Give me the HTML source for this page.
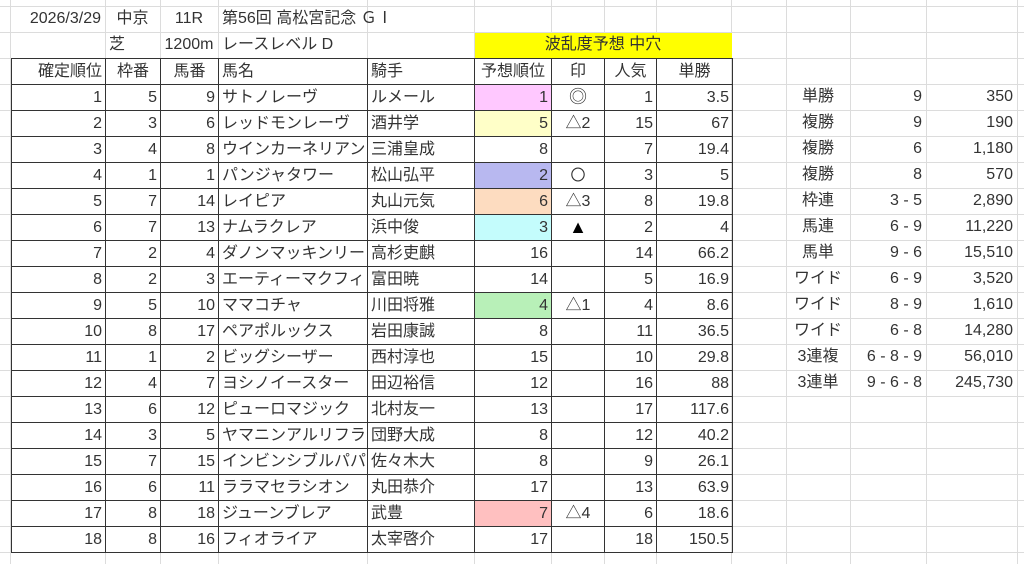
<!DOCTYPE html>
<html><head><meta charset="utf-8"><style>
body{margin:0;width:1024px;height:564px;overflow:hidden;background:#fff;font-family:"Liberation Sans","Noto Sans CJK JP",sans-serif;font-size:16px;color:#333;position:relative}
svg.bg{position:absolute;left:0;top:0}
.t{position:absolute;line-height:26px;height:26px;white-space:nowrap}
table{position:absolute;left:11px;top:58px;width:721px;border-collapse:collapse;table-layout:fixed}
td{border:1px solid #333;height:25px;padding:0 3px;line-height:25px;white-space:nowrap;overflow:hidden}
td.r{text-align:right}td.c{text-align:center}td.l{text-align:left}
.big{font-size:18px}
</style></head><body>
<svg class="bg" width="1024" height="564">
<g stroke="#dcdcdc" stroke-width="1">
<line x1="0" y1="6.5" x2="1024" y2="6.5"/><line x1="0" y1="32.5" x2="1024" y2="32.5"/><line x1="0" y1="58.5" x2="1024" y2="58.5"/>
<line x1="0" y1="84.5" x2="1024" y2="84.5"/><line x1="0" y1="110.5" x2="1024" y2="110.5"/><line x1="0" y1="136.5" x2="1024" y2="136.5"/>
<line x1="0" y1="162.5" x2="1024" y2="162.5"/><line x1="0" y1="188.5" x2="1024" y2="188.5"/><line x1="0" y1="214.5" x2="1024" y2="214.5"/>
<line x1="0" y1="240.5" x2="1024" y2="240.5"/><line x1="0" y1="266.5" x2="1024" y2="266.5"/><line x1="0" y1="292.5" x2="1024" y2="292.5"/>
<line x1="0" y1="318.5" x2="1024" y2="318.5"/><line x1="0" y1="344.5" x2="1024" y2="344.5"/><line x1="0" y1="370.5" x2="1024" y2="370.5"/>
<line x1="0" y1="396.5" x2="1024" y2="396.5"/><line x1="0" y1="422.5" x2="1024" y2="422.5"/><line x1="0" y1="448.5" x2="1024" y2="448.5"/>
<line x1="0" y1="474.5" x2="1024" y2="474.5"/><line x1="0" y1="500.5" x2="1024" y2="500.5"/><line x1="0" y1="526.5" x2="1024" y2="526.5"/>
<line x1="0" y1="552.5" x2="1024" y2="552.5"/>
<line x1="10.5" y1="0" x2="10.5" y2="564"/><line x1="105.5" y1="0" x2="105.5" y2="564"/><line x1="160.5" y1="0" x2="160.5" y2="564"/>
<line x1="218.5" y1="0" x2="218.5" y2="564"/><line x1="367.5" y1="0" x2="367.5" y2="564"/><line x1="474.5" y1="0" x2="474.5" y2="564"/>
<line x1="551.5" y1="0" x2="551.5" y2="564"/><line x1="604.5" y1="0" x2="604.5" y2="564"/><line x1="656.5" y1="0" x2="656.5" y2="564"/>
<line x1="731.5" y1="0" x2="731.5" y2="564"/><line x1="786.5" y1="0" x2="786.5" y2="564"/><line x1="850.5" y1="0" x2="850.5" y2="564"/>
<line x1="926.5" y1="0" x2="926.5" y2="564"/><line x1="1017.5" y1="0" x2="1017.5" y2="564"/>
</g>
<rect x="219" y="7" width="148" height="25" fill="#fff"/>
<rect x="368" y="7" width="106" height="25" fill="#fff"/>
<rect x="219" y="33" width="148" height="25" fill="#fff"/>
<rect x="475" y="33" width="257" height="25" fill="#ffff00"/>
</svg>
<div class="t" style="left:11px;top:6px;width:90px;text-align:right">2026/3/29</div>
<div class="t" style="left:105px;top:6px;width:55px;text-align:center">中京</div>
<div class="t" style="left:160px;top:6px;width:58px;text-align:center">11R</div>
<div class="t" style="left:222px;top:6px">第56回 高松宮記念 ＧⅠ</div>
<div class="t" style="left:109px;top:32px">芝</div>
<div class="t" style="left:160px;top:32px;width:58px;text-align:center">1200m</div>
<div class="t" style="left:222px;top:32px">レースレベル D</div>
<div class="t" style="left:474px;top:32px;width:258px;text-align:center">波乱度予想 中穴</div>
<table>
<colgroup><col style="width:94px"><col style="width:55px"><col style="width:58px"><col style="width:149px"><col style="width:107px"><col style="width:77px"><col style="width:53px"><col style="width:52px"><col style="width:76px"></colgroup>
<tr><td class="r">確定順位</td><td class="c">枠番</td><td class="c">馬番</td><td class="l">馬名</td><td class="l">騎手</td><td class="c">予想順位</td><td class="c">印</td><td class="c">人気</td><td class="c">単勝</td></tr>
<tr><td class="r">1</td><td class="r">5</td><td class="r">9</td><td>サトノレーヴ</td><td>ルメール</td><td class="r" style="background:#ffc8ff">1</td><td class="c big">◎</td><td class="r">1</td><td class="r">3.5</td></tr>
<tr><td class="r">2</td><td class="r">3</td><td class="r">6</td><td>レッドモンレーヴ</td><td>酒井学</td><td class="r" style="background:#ffffc8">5</td><td class="c">△2</td><td class="r">15</td><td class="r">67</td></tr>
<tr><td class="r">3</td><td class="r">4</td><td class="r">8</td><td>ウインカーネリアン</td><td>三浦皇成</td><td class="r">8</td><td></td><td class="r">7</td><td class="r">19.4</td></tr>
<tr><td class="r">4</td><td class="r">1</td><td class="r">1</td><td>パンジャタワー</td><td>松山弘平</td><td class="r" style="background:#b8b8f0">2</td><td class="c" style="font-size:15px">〇</td><td class="r">3</td><td class="r">5</td></tr>
<tr><td class="r">5</td><td class="r">7</td><td class="r">14</td><td>レイピア</td><td>丸山元気</td><td class="r" style="background:#fddcc0">6</td><td class="c">△3</td><td class="r">8</td><td class="r">19.8</td></tr>
<tr><td class="r">6</td><td class="r">7</td><td class="r">13</td><td>ナムラクレア</td><td>浜中俊</td><td class="r" style="background:#c4fcfc">3</td><td class="c big" style="color:#000">▲</td><td class="r">2</td><td class="r">4</td></tr>
<tr><td class="r">7</td><td class="r">2</td><td class="r">4</td><td>ダノンマッキンリー</td><td>高杉吏麒</td><td class="r">16</td><td></td><td class="r">14</td><td class="r">66.2</td></tr>
<tr><td class="r">8</td><td class="r">2</td><td class="r">3</td><td>エーティーマクフィ</td><td>富田暁</td><td class="r">14</td><td></td><td class="r">5</td><td class="r">16.9</td></tr>
<tr><td class="r">9</td><td class="r">5</td><td class="r">10</td><td>ママコチャ</td><td>川田将雅</td><td class="r" style="background:#b8f0b8">4</td><td class="c">△1</td><td class="r">4</td><td class="r">8.6</td></tr>
<tr><td class="r">10</td><td class="r">8</td><td class="r">17</td><td>ペアポルックス</td><td>岩田康誠</td><td class="r">8</td><td></td><td class="r">11</td><td class="r">36.5</td></tr>
<tr><td class="r">11</td><td class="r">1</td><td class="r">2</td><td>ビッグシーザー</td><td>西村淳也</td><td class="r">15</td><td></td><td class="r">10</td><td class="r">29.8</td></tr>
<tr><td class="r">12</td><td class="r">4</td><td class="r">7</td><td>ヨシノイースター</td><td>田辺裕信</td><td class="r">12</td><td></td><td class="r">16</td><td class="r">88</td></tr>
<tr><td class="r">13</td><td class="r">6</td><td class="r">12</td><td>ピューロマジック</td><td>北村友一</td><td class="r">13</td><td></td><td class="r">17</td><td class="r">117.6</td></tr>
<tr><td class="r">14</td><td class="r">3</td><td class="r">5</td><td>ヤマニンアルリフラ</td><td>団野大成</td><td class="r">8</td><td></td><td class="r">12</td><td class="r">40.2</td></tr>
<tr><td class="r">15</td><td class="r">7</td><td class="r">15</td><td>インビンシブルパパ</td><td>佐々木大</td><td class="r">8</td><td></td><td class="r">9</td><td class="r">26.1</td></tr>
<tr><td class="r">16</td><td class="r">6</td><td class="r">11</td><td>ララマセラシオン</td><td>丸田恭介</td><td class="r">17</td><td></td><td class="r">13</td><td class="r">63.9</td></tr>
<tr><td class="r">17</td><td class="r">8</td><td class="r">18</td><td>ジューンブレア</td><td>武豊</td><td class="r" style="background:#ffc0c0">7</td><td class="c">△4</td><td class="r">6</td><td class="r">18.6</td></tr>
<tr><td class="r">18</td><td class="r">8</td><td class="r">16</td><td>フィオライア</td><td>太宰啓介</td><td class="r">17</td><td></td><td class="r">18</td><td class="r">150.5</td></tr>
</table>
<div style="position:absolute;left:786px;top:84px">
<div style="position:relative">
<div class="t" style="left:0;top:0;width:64px;text-align:center">単勝</div><div class="t" style="left:64px;top:0;width:72px;text-align:right">9</div><div class="t" style="left:140px;top:0;width:87px;text-align:right">350</div>
<div class="t" style="left:0;top:26px;width:64px;text-align:center">複勝</div><div class="t" style="left:64px;top:26px;width:72px;text-align:right">9</div><div class="t" style="left:140px;top:26px;width:87px;text-align:right">190</div>
<div class="t" style="left:0;top:52px;width:64px;text-align:center">複勝</div><div class="t" style="left:64px;top:52px;width:72px;text-align:right">6</div><div class="t" style="left:140px;top:52px;width:87px;text-align:right">1,180</div>
<div class="t" style="left:0;top:78px;width:64px;text-align:center">複勝</div><div class="t" style="left:64px;top:78px;width:72px;text-align:right">8</div><div class="t" style="left:140px;top:78px;width:87px;text-align:right">570</div>
<div class="t" style="left:0;top:104px;width:64px;text-align:center">枠連</div><div class="t" style="left:64px;top:104px;width:72px;text-align:right">3 - 5</div><div class="t" style="left:140px;top:104px;width:87px;text-align:right">2,890</div>
<div class="t" style="left:0;top:130px;width:64px;text-align:center">馬連</div><div class="t" style="left:64px;top:130px;width:72px;text-align:right">6 - 9</div><div class="t" style="left:140px;top:130px;width:87px;text-align:right">11,220</div>
<div class="t" style="left:0;top:156px;width:64px;text-align:center">馬単</div><div class="t" style="left:64px;top:156px;width:72px;text-align:right">9 - 6</div><div class="t" style="left:140px;top:156px;width:87px;text-align:right">15,510</div>
<div class="t" style="left:0;top:182px;width:64px;text-align:center">ワイド</div><div class="t" style="left:64px;top:182px;width:72px;text-align:right">6 - 9</div><div class="t" style="left:140px;top:182px;width:87px;text-align:right">3,520</div>
<div class="t" style="left:0;top:208px;width:64px;text-align:center">ワイド</div><div class="t" style="left:64px;top:208px;width:72px;text-align:right">8 - 9</div><div class="t" style="left:140px;top:208px;width:87px;text-align:right">1,610</div>
<div class="t" style="left:0;top:234px;width:64px;text-align:center">ワイド</div><div class="t" style="left:64px;top:234px;width:72px;text-align:right">6 - 8</div><div class="t" style="left:140px;top:234px;width:87px;text-align:right">14,280</div>
<div class="t" style="left:0;top:260px;width:64px;text-align:center">3連複</div><div class="t" style="left:64px;top:260px;width:72px;text-align:right">6 - 8 - 9</div><div class="t" style="left:140px;top:260px;width:87px;text-align:right">56,010</div>
<div class="t" style="left:0;top:286px;width:64px;text-align:center">3連単</div><div class="t" style="left:64px;top:286px;width:72px;text-align:right">9 - 6 - 8</div><div class="t" style="left:140px;top:286px;width:87px;text-align:right">245,730</div>
</div></div>
</body></html>
